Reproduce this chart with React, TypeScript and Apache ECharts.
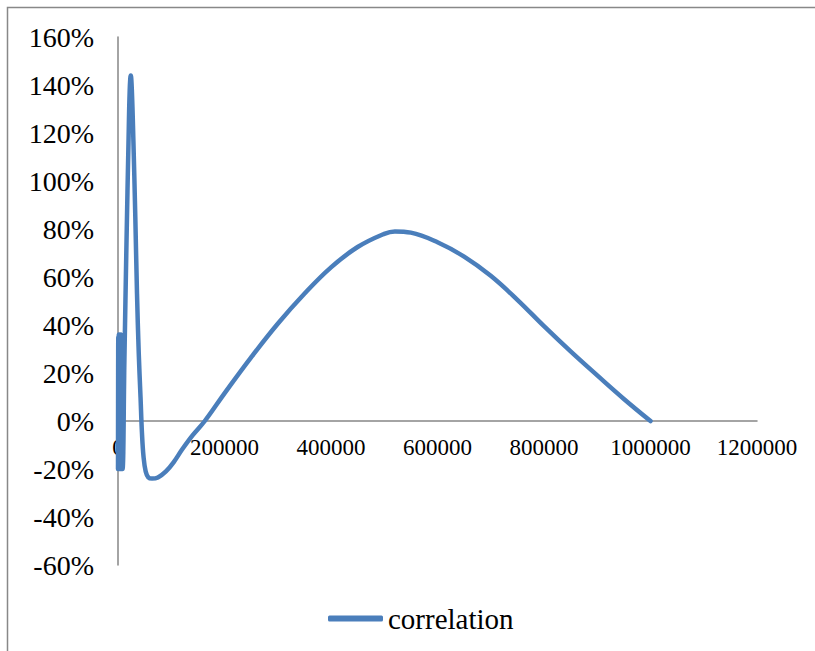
import React, { useEffect, useRef } from "react";
import * as echarts from "echarts";

const seriesName = "correlation";

const xValues: number[] = [
  0, 500, 1000, 1500, 2000, 2500, 3000, 3500, 4000, 4500, 5000, 5500, 6000, 6500, 7000,
  8500, 12000, 16000, 19700, 22000, 24000, 26000, 29000, 32500, 35700, 39000, 42300, 45000,
  48000, 52000, 57000, 64000, 75000, 90000, 105000, 120000, 140000, 163000, 200000, 250000,
  300000, 350000, 400000, 450000, 500000, 520000, 550000, 600000, 650000, 700000, 750000,
  800000, 850000, 900000, 950000, 1000000,
];

const corrValues: number[] = [
  -0.2, 0.35, -0.19, 0.36, -0.2, 0.3, -0.18, 0.34, -0.2, 0.28, -0.19, 0.36, -0.2, 0.2, -0.2,
  -0.2, 0.25, 0.75, 1.16, 1.38, 1.44, 1.38, 1.16, 0.85, 0.53, 0.28, 0.1, -0.05,
  -0.15, -0.21, -0.235, -0.24, -0.235, -0.21, -0.17, -0.12, -0.06, 0, 0.115, 0.265,
  0.405, 0.53, 0.64, 0.725, 0.78, 0.79, 0.785, 0.745, 0.685, 0.605, 0.505,
  0.395, 0.29, 0.19, 0.092, 0,
];

const xMin = 0;
const xMax = 1200000;
const xStep = 200000;
const yMin = -0.6;
const yMax = 1.6;
const yStep = 0.2;

const FONT = "Liberation Serif";

export default function App() {
  const ref = useRef<HTMLDivElement>(null);
  useEffect(() => {
    if (!ref.current) return;
    const chart = echarts.init(ref.current, null, { renderer: "svg" });
    const data = xValues.map((x, i) => [x, corrValues[i]]);
    chart.setOption({
      animation: false,
      backgroundColor: "#ffffff",
      graphic: [
        {
          type: "polyline",
          shape: { points: [[7.5, 700], [7.5, 7.5], [900, 7.5]] },
          style: { fill: "none", stroke: "#888888", lineWidth: 1.5 },
          silent: true,
        },
      ],
      grid: { left: 118, right: 58, top: 37, bottom: 86, containLabel: false },
      legend: {
        left: 323,
        top: 599,
        icon: "roundRect",
        itemWidth: 55,
        itemHeight: 6,
        itemGap: 5,
        textStyle: { fontFamily: FONT, fontSize: 29, color: "#000" },
        data: [seriesName],
      },
      xAxis: {
        type: "value",
        min: xMin,
        max: xMax,
        interval: xStep,
        offset: -144,
        axisLine: { onZero: false, lineStyle: { color: "#868686", width: 1.5 } },
        axisTick: { show: false },
        splitLine: { show: false },
        axisLabel: {
          fontFamily: FONT,
          fontSize: 23,
          color: "#000",
          margin: 15,
          formatter: (v: number) => String(v),
        },
      },
      yAxis: {
        type: "value",
        min: yMin,
        max: yMax,
        interval: yStep,
        axisLine: { show: true, lineStyle: { color: "#868686", width: 1.5 } },
        axisTick: { show: false },
        splitLine: { show: false },
        axisLabel: {
          fontFamily: FONT,
          fontSize: 28,
          color: "#000",
          margin: 24,
          formatter: (v: number) => Math.round(v * 100) + "%",
        },
      },
      series: [
        {
          name: seriesName,
          type: "line",
          data,
          smooth: 0.4,
          showSymbol: false,
          color: "#4a7ebb",
          lineStyle: { width: 4.5, color: "#4a7ebb", cap: "round", join: "round" },
        },
      ],
    });
    return () => chart.dispose();
  }, []);
  return (
    <div
      ref={ref}
      style={{ position: "absolute", left: 0, top: 0, width: 815, height: 651 }}
    />
  );
}
